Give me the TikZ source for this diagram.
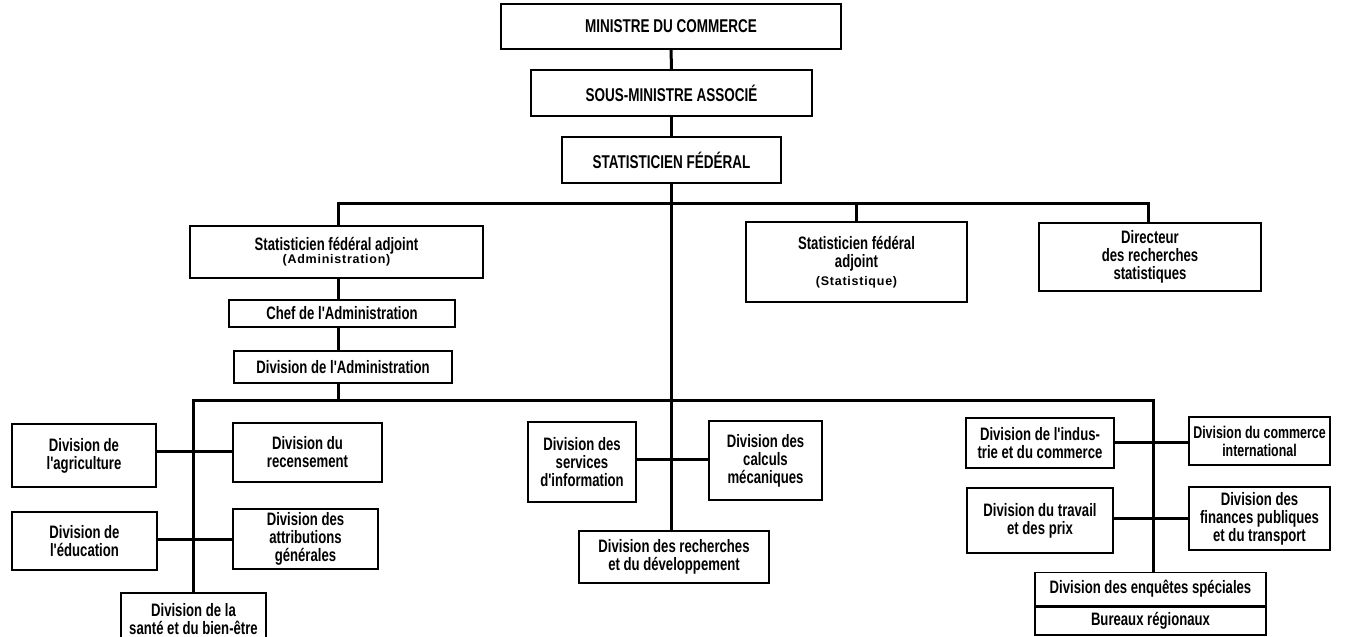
\documentclass[tikz,border=0pt]{standalone}
\usepackage{fontspec}
\newfontfamily\cond{Liberation Sans}[FakeStretch=0.73]
\newfontfamily\spaced{Liberation Sans}[LetterSpace=6]
\newcommand{\sub}[1]{{\spaced\bfseries\fontsize{12.5}{14}\selectfont #1}}
\begin{document}
\begin{tikzpicture}[x=1pt,y=-1pt,
  unit/.style={draw, line width=1.9pt, inner sep=0pt, align=center,
    font=\cond\bfseries\fontsize{18}{18}\selectfont},
  title/.style={unit, font=\cond\bfseries\fontsize{18.5}{18}\selectfont},
  link/.style={line width=3pt, line join=miter}]
\useasboundingbox (0,0) rectangle (1349,637);

% --- top of the hierarchy
\node[title, minimum width=340, minimum height=45] (min) at (671,26.5) {MINISTRE DU COMMERCE};
\node[title, minimum width=281, minimum height=46] (sous) at (671.5,93) {SOUS-MINISTRE ASSOCIÉ};
\node[title, minimum width=219, minimum height=46] (statfed) at (671.5,160) {STATISTICIEN FÉDÉRAL};

% --- second level
\node[unit, minimum width=293, minimum height=52] (adjadm) at (336.5,252) {Statisticien fédéral adjoint\\[-5pt]\sub{(Administration)}};
\node[unit, minimum width=226, minimum height=27] (chef) at (342,313.5) {Chef de l'Administration};
\node[unit, minimum width=218, minimum height=32] (divadm) at (343,367) {Division de l'Administration};
\node[unit, minimum width=221, minimum height=80] (adjstat) at (856.5,262) {Statisticien fédéral\\adjoint\\\sub{(Statistique)}};
\node[unit, minimum width=222, minimum height=68] (dir) at (1150,257) {Directeur\\des recherches\\statistiques};

% --- left group of divisions
\node[unit, minimum width=144, minimum height=63] (agri) at (84,455.5) {Division de\\l'agriculture};
\node[unit, minimum width=149, minimum height=59] (recens) at (307.5,452.5) {Division du\\recensement};
\node[unit, minimum width=145, minimum height=58] (educ) at (84.5,541) {Division de\\l'éducation};
\node[unit, minimum width=145, minimum height=60] (attrib) at (305.5,539) {Division des\\attributions\\générales};
\node[unit, minimum width=145, minimum height=52] (sante) at (193.5,619) {Division de la\\santé et du bien-être};

% --- central group of divisions
\node[unit, minimum width=108, minimum height=80] (serv) at (582,462) {Division des\\services\\d'information};
\node[unit, minimum width=113, minimum height=79] (calc) at (765.5,460.5) {Division des\\calculs\\mécaniques};
\node[unit, minimum width=190, minimum height=52] (rech) at (674,557) {Division des recherches\\et du développement};

% --- right group of divisions
\node[unit, minimum width=148, minimum height=50] (indus) at (1040,443) {Division de l'indus-\\trie et du commerce};
\node[unit, minimum width=141, minimum height=48, font=\cond\bfseries\fontsize{17}{18}\selectfont] (comint) at (1259.5,441) {Division du commerce\\international};
\node[unit, minimum width=146, minimum height=65] (trav) at (1040,520.5) {Division du travail\\et des prix};
\node[unit, minimum width=141, minimum height=63] (fin) at (1259.5,518.5) {Division des\\finances publiques\\et du transport};
\node[unit, minimum width=231, minimum height=33] (enq) at (1150.5,589) {Division des enquêtes spéciales};
\node[unit, minimum width=231, minimum height=27.5, anchor=north] (bur) at (enq.south) {Bureaux régionaux};

% --- bus lines
\coordinate (lx) at (338,0);
\coordinate (ubR) at (1148,203);
\coordinate (lbL) at (193,400);
\coordinate (lbR) at (1153,400);

% --- connectors
\draw[link] (min) -- (sous);
\draw[link] (sous) -- (statfed);
\draw[link] (statfed.south) -- (statfed.south |- rech.north);
\draw[link] (lx |- adjadm.north) |- (ubR) -- (ubR |- dir.north);
\draw[link] (adjstat.north) -- (adjstat.north |- ubR);
\draw[link] (lx |- adjadm.south) -- (lx |- chef.north);
\draw[link] (lx |- chef.south) -- (lx |- divadm.north);
\draw[link] (lx |- divadm.south) -- (lx |- lbL);
\draw[link] (lbL |- sante.north) -- (lbL) -- (lbR) -- (lbR |- enq.north);
\draw[link] (agri.east |- 0,451) -- (recens.west |- 0,451);
\draw[link] (educ.east |- 0,539) -- (attrib.west |- 0,539);
\draw[link] (serv.east |- 0,459) -- (calc.west |- 0,459);
\draw[link] (indus.east |- 0,442) -- (comint.west |- 0,442);
\draw[link] (trav.east |- 0,518) -- (fin.west |- 0,518);
\end{tikzpicture}
\end{document}
